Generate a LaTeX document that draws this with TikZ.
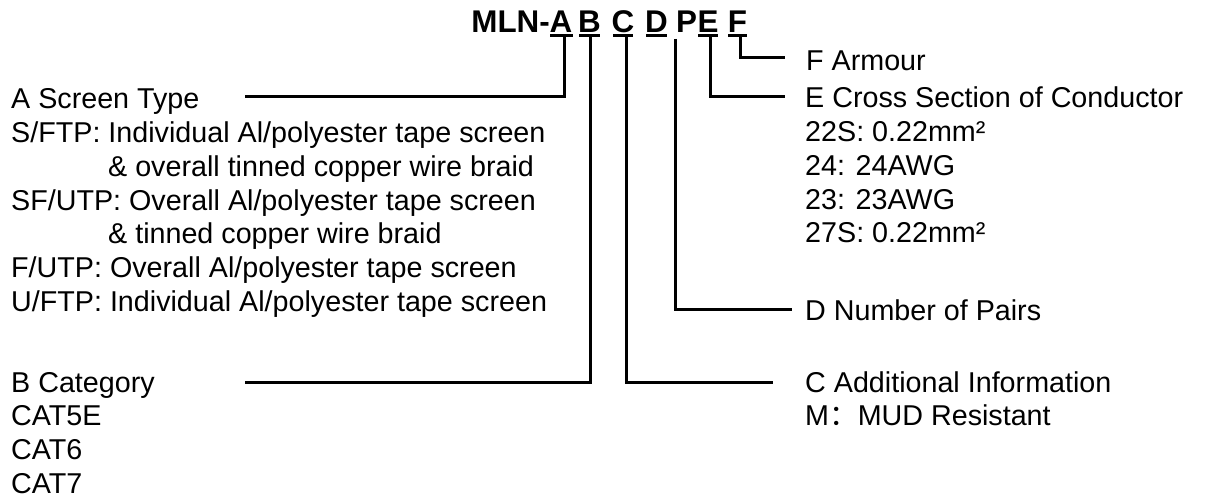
\documentclass[tikz,border=0pt]{standalone}
\usepackage{fontspec}
\setmainfont{Liberation Sans}
\newfontfamily\cjk{Noto Sans CJK SC}
\usetikzlibrary{calc}
\begin{document}
\begin{tikzpicture}[x=1bp,y=-1bp,
  txt/.style={anchor=base west, inner sep=0pt, font=\fontsize{28.8}{34}\selectfont},
  ttl/.style={anchor=base, inner sep=0pt, font=\fontsize{31.5}{36}\selectfont\bfseries},
  conn/.style={line width=3bp, line join=miter},
  uline/.style={line width=2.5bp}]
\useasboundingbox (0,0) rectangle (1205,501);

% title letters
\node[ttl, anchor=base east] (mln) at (550,32.5) {MLN-};
\node[ttl] (lA) at (561,32.5) {A};
\node[ttl] (lB) at (589.5,32.5) {B};
\node[ttl] (lC) at (623,32.5) {C};
\node[ttl] (lD) at (656.5,32.5) {D};
\node[ttl] (lP) at (686.5,32.5) {P};
\node[ttl] (lE) at (708,32.5) {E};
\node[ttl] (lF) at (737.5,32.5) {F};
\foreach \l/\a/\b in {A/550/573,B/579/600,C/613/633,D/646/667,E/698/718,F/728/747}{
  \coordinate (u\l1) at (\a,35.5);
  \coordinate (u\l2) at (\b,35.5);
  \draw[uline] (u\l1) -- (u\l2);
}
% stem tops
\coordinate (sA) at (564,35.5);
\coordinate (sB) at (590,35.5);
\coordinate (sC) at (626,35.5);
\coordinate (sD) at (675,39);
\coordinate (sE) at (710,35.5);
\coordinate (sF) at (740,35.5);
% line ends
\coordinate (eA) at (245,97);
\coordinate (eB) at (245,383);
\coordinate (eC) at (773,383);
\coordinate (eD) at (792,310);
\coordinate (eE) at (785,97);
\coordinate (eF) at (785,58);

\draw[conn] (sA) |- (eA);
\draw[conn] (sB) |- (eB);
\draw[conn] (sC) |- (eC);
\draw[conn] (sD) |- (eD);
\draw[conn] (sE) |- (eE);
\draw[conn] (sF) |- (eF);

% left texts
\node[txt] (a0) at (11,109) {A Screen Type};
\node[txt] (a1) at (11,142.7) {S/FTP: Individual Al/polyester tape screen};
\node[txt] (a2) at (108,176.4) {\& overall tinned copper wire braid};
\node[txt] (a3) at (11,210.1) {SF/UTP: Overall Al/polyester tape screen};
\node[txt] (a4) at (108,243.8) {\& tinned copper wire braid};
\node[txt] (a5) at (11,277.5) {F/UTP: Overall Al/polyester tape screen};
\node[txt] (a6) at (11,311.2) {U/FTP: Individual Al/polyester tape screen};

\node[txt] (b0) at (11,392) {B Category};
\node[txt] (b1) at (11,425.7) {CAT5E};
\node[txt] (b2) at (11,459.4) {CAT6};
\node[txt] (b3) at (11,493) {CAT7};

% right texts
\node[txt] (f0) at (806,71) {F Armour};
\node[txt] (e0) at (805,108) {E Cross Section of Conductor};
\node[txt] (e1) at (805,141.7) {22S: 0.22mm²};
\node[txt] (e2) at (805,175.4) {24: 24AWG};
\node[txt] (e3) at (805,209.1) {23: 23AWG};
\node[txt] (e4) at (805,242.8) {27S: 0.22mm²};
\node[txt] (d0) at (805,321) {D Number of Pairs};
\node[txt] (c0) at (805,392) {C Additional Information};
\node[txt] (c1) at (805,425.7) {M{\cjk ：}MUD Resistant};
\end{tikzpicture}
\end{document}
